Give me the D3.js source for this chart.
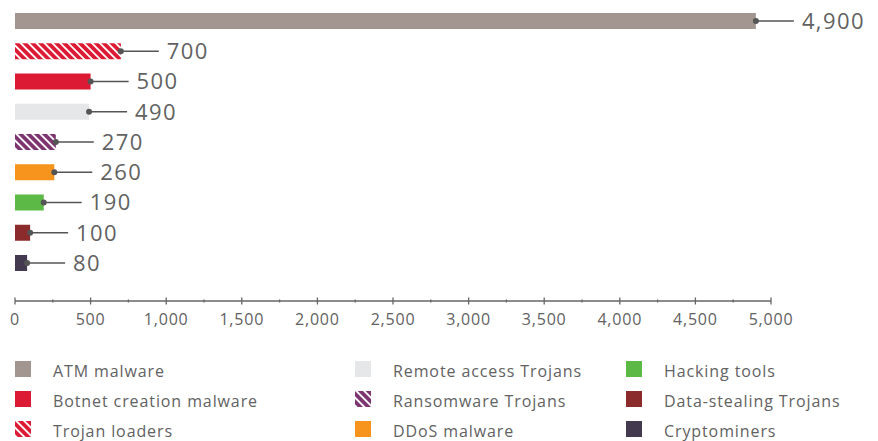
<!DOCTYPE html>
<html>
<head>
<meta charset="utf-8">
<script src="https://cdn.jsdelivr.net/npm/d3@7"></script>
<style>
  html, body { margin: 0; padding: 0; background: #fff; }
  svg { display: block; font-family: "Open Sans", "Noto Sans", sans-serif; }
</style>
</head>
<body>
<svg id="chart" width="878" height="441"></svg>
<script>
// Malware categories, largest first
const categories = [
  "ATM malware", "Trojan loaders", "Botnet creation malware", "Remote access Trojans",
  "Ransomware Trojans", "DDoS malware", "Hacking tools", "Data-stealing Trojans", "Cryptominers"
];
const counts = [4900, 700, 500, 490, 270, 260, 190, 100, 80];
const fills = ["#a39691", "#dc1a33", "#dc1a33", "#e6e7e8", "#7d3572", "#f7941d", "#5cb946", "#8c2b2b", "#433a4f"];
const hatched = [false, true, false, false, true, false, false, false, false];
const majorTicks = [0, 500, 1000, 1500, 2000, 2500, 3000, 3500, 4000, 4500, 5000];
const minorTicks = [250, 750, 1250, 1750, 2250, 2750, 3250, 3750, 4250, 4750];
// legend reads column by column
const legendOrder = [
  "ATM malware", "Botnet creation malware", "Trojan loaders",
  "Remote access Trojans", "Ransomware Trojans", "DDoS malware",
  "Hacking tools", "Data-stealing Trojans", "Cryptominers"
];

const svg = d3.select("#chart");
const fmt = d3.format(",");
const textColor = "#626262";

const x = d3.scaleLinear().domain([0, 5000]).range([15, 771]);
const y = d3.scaleBand().domain(categories).range([13, 271]).paddingInner(0.471).paddingOuter(0);

// diagonal stripe patterns for hatched series
const defs = svg.append("defs");
categories.forEach((c, i) => {
  if (!hatched[i]) return;
  const p = defs.append("pattern")
    .attr("id", "hatch" + i)
    .attr("patternUnits", "userSpaceOnUse")
    .attr("width", 5.6).attr("height", 5.6)
    .attr("patternTransform", "rotate(-45)");
  p.append("rect").attr("width", 5.6).attr("height", 5.6).attr("fill", fills[i]);
  p.append("rect").attr("x", 0).attr("width", 1.8).attr("height", 5.6).attr("fill", "#fff");
});
const paint = i => hatched[i] ? `url(#hatch${i})` : fills[i];

// bars
svg.append("g").selectAll("rect").data(categories).join("rect")
  .attr("x", x(0))
  .attr("y", d => y(d))
  .attr("width", (d, i) => x(counts[i]) - x(0))
  .attr("height", y.bandwidth())
  .attr("fill", (d, i) => paint(i));

// value callouts: dot, leader line, label
const callouts = svg.append("g").selectAll("g").data(categories).join("g")
  .attr("transform", (d, i) => `translate(${x(counts[i])},${y(d) + y.bandwidth() / 2})`);
callouts.append("line").attr("x1", 0).attr("x2", 38).attr("stroke", "#555").attr("stroke-width", 1.5);
callouts.append("circle").attr("r", 3).attr("fill", "#555");
callouts.append("text")
  .attr("x", 46).attr("dy", "0.36em")
  .attr("font-size", 22).attr("letter-spacing", 1.4).attr("fill", textColor)
  .text((d, i) => fmt(counts[i]));

// x axis with major and minor ticks
const axisY = 301;
const axisG = svg.append("g").attr("transform", `translate(0,${axisY})`);
axisG.append("line").attr("x1", x(0)).attr("x2", x(5000)).attr("stroke", "#666").attr("stroke-width", 1.5);
axisG.selectAll(".major").data(majorTicks).join("line").attr("class", "major")
  .attr("x1", d => x(d)).attr("x2", d => x(d)).attr("y1", -3.5).attr("y2", 3.5)
  .attr("stroke", "#666").attr("stroke-width", 1.3);
axisG.selectAll(".minor").data(minorTicks).join("line").attr("class", "minor")
  .attr("x1", d => x(d)).attr("x2", d => x(d)).attr("y1", -1.5).attr("y2", 1.5)
  .attr("stroke", "#666").attr("stroke-width", 1.3);
axisG.selectAll("text").data(majorTicks).join("text")
  .attr("x", d => x(d)).attr("y", 18).attr("dy", "0.36em")
  .attr("text-anchor", "middle").attr("font-size", 16).attr("letter-spacing", 0.8)
  .attr("fill", textColor)
  .text(d => fmt(d));

// legend, three columns of three
const colX = [15, 355, 626];
const legend = svg.append("g").selectAll("g").data(legendOrder).join("g")
  .attr("transform", (d, k) => `translate(${colX[Math.floor(k / 3)]},${361 + (k % 3) * 30})`);
legend.append("rect").attr("width", 16).attr("height", 16)
  .attr("fill", d => paint(categories.indexOf(d)));
legend.append("text").attr("x", 38).attr("y", 10).attr("dy", "0.36em")
  .attr("font-size", 16).attr("letter-spacing", 0.9).attr("fill", textColor).text(d => d);
</script>
</body>
</html>
